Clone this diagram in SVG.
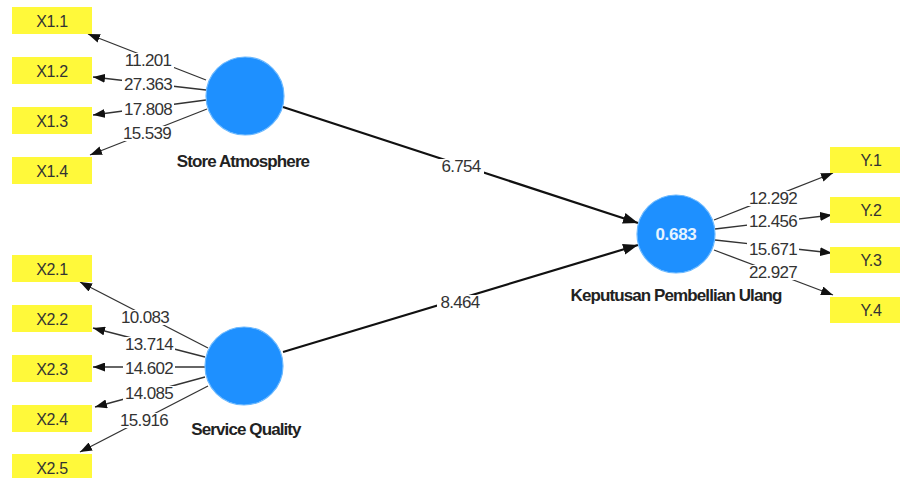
<svg xmlns="http://www.w3.org/2000/svg" width="900" height="478" viewBox="0 0 900 478">
<defs>
<marker id="ah" markerUnits="userSpaceOnUse" viewBox="0 0 12 9" markerWidth="12" markerHeight="9" refX="12" refY="4.5" orient="auto"><path d="M0,0 L12,4.5 L0,9 z" fill="#111"/></marker>
<marker id="ahb" markerUnits="userSpaceOnUse" viewBox="0 0 15 11" markerWidth="15" markerHeight="11" refX="15" refY="5.5" orient="auto"><path d="M0,0 L15,5.5 L0,11 z" fill="#111"/></marker>
<style>
.ind{fill:#fff93a;}
.it{font-family:"Liberation Sans",Arial,sans-serif;font-size:16px;fill:#333;text-anchor:middle;letter-spacing:-0.3px;}
.lv{fill:#1e90ff;stroke:#6ab8ff;stroke-width:1.2;}
.lt{font-family:"Liberation Sans",Arial,sans-serif;font-size:17px;font-weight:bold;fill:#222;text-anchor:middle;letter-spacing:-0.9px;}
.r2{font-family:"Liberation Sans",Arial,sans-serif;font-size:17px;font-weight:bold;fill:#e6f4ff;text-anchor:middle;letter-spacing:-0.3px;}
.ln{stroke:#333;stroke-width:1.3;fill:none;marker-end:url(#ah);}
.pl{stroke:#111;stroke-width:2.2;fill:none;marker-end:url(#ahb);}
.bg{fill:#fff;}
.nl{font-family:"Liberation Sans",Arial,sans-serif;font-size:17px;fill:#333;text-anchor:middle;letter-spacing:-0.7px;}
</style>
</defs>
<rect width="900" height="478" fill="#fff"/>
<g id="connectors">
<line class="ln" x1="206" y1="80" x2="88" y2="34"/>
<line class="ln" x1="206" y1="90" x2="93" y2="77"/>
<line class="ln" x1="206" y1="100" x2="93" y2="115"/>
<line class="ln" x1="207" y1="109" x2="90" y2="155"/>
<line class="ln" x1="208" y1="348" x2="80" y2="282"/>
<line class="ln" x1="205" y1="357" x2="93" y2="328"/>
<line class="ln" x1="205" y1="367" x2="93" y2="367"/>
<line class="ln" x1="205" y1="377" x2="95" y2="407"/>
<line class="ln" x1="208" y1="386" x2="80" y2="452"/>
<line class="ln" x1="714" y1="220" x2="833" y2="173"/>
<line class="ln" x1="715" y1="229" x2="832" y2="215"/>
<line class="ln" x1="715" y1="240" x2="832" y2="253"/>
<line class="ln" x1="714" y1="250" x2="833" y2="295"/>
<line class="pl" x1="283" y1="107" x2="638" y2="223"/>
<line class="pl" x1="283" y1="352" x2="638" y2="245"/>
<rect class="bg" x="122" y="53" width="52" height="15"/>
<rect class="bg" x="122" y="77" width="52" height="15"/>
<rect class="bg" x="122" y="102" width="52" height="15"/>
<rect class="bg" x="121" y="126" width="52" height="15"/>
<rect class="bg" x="119" y="310" width="52" height="15"/>
<rect class="bg" x="123" y="337" width="52" height="15"/>
<rect class="bg" x="123" y="361" width="52" height="15"/>
<rect class="bg" x="123" y="386" width="52" height="15"/>
<rect class="bg" x="118" y="413" width="52" height="15"/>
<rect class="bg" x="747" y="191" width="52" height="15"/>
<rect class="bg" x="747" y="214" width="52" height="15"/>
<rect class="bg" x="747" y="242" width="52" height="15"/>
<rect class="bg" x="747" y="265" width="52" height="15"/>
<rect class="bg" x="438" y="159" width="46" height="15"/>
<rect class="bg" x="437" y="295" width="46" height="15"/>
<text class="nl" x="148" y="66">11.201</text>
<text class="nl" x="148" y="90">27.363</text>
<text class="nl" x="148" y="115">17.808</text>
<text class="nl" x="147" y="139">15.539</text>
<text class="nl" x="145" y="323">10.083</text>
<text class="nl" x="149" y="350">13.714</text>
<text class="nl" x="149" y="374">14.602</text>
<text class="nl" x="149" y="399">14.085</text>
<text class="nl" x="144" y="426">15.916</text>
<text class="nl" x="773" y="204">12.292</text>
<text class="nl" x="773" y="227">12.456</text>
<text class="nl" x="773" y="255">15.671</text>
<text class="nl" x="773" y="278">22.927</text>
<text class="nl" x="461" y="172">6.754</text>
<text class="nl" x="460" y="308">8.464</text>
</g>
<g id="X1.1"><rect class="ind" x="12" y="7" width="80" height="27"/><text class="it" x="52" y="26.5">X1.1</text></g>
<g id="X1.2"><rect class="ind" x="12" y="57" width="80" height="27"/><text class="it" x="52" y="76.5">X1.2</text></g>
<g id="X1.3"><rect class="ind" x="12" y="107" width="80" height="27"/><text class="it" x="52" y="126.5">X1.3</text></g>
<g id="X1.4"><rect class="ind" x="12" y="157" width="80" height="27"/><text class="it" x="52" y="176.5">X1.4</text></g>
<g id="X2.1"><rect class="ind" x="12" y="255" width="80" height="27"/><text class="it" x="52" y="274.5">X2.1</text></g>
<g id="X2.2"><rect class="ind" x="12" y="305" width="80" height="27"/><text class="it" x="52" y="324.5">X2.2</text></g>
<g id="X2.3"><rect class="ind" x="12" y="355" width="80" height="27"/><text class="it" x="52" y="374.5">X2.3</text></g>
<g id="X2.4"><rect class="ind" x="12" y="405" width="80" height="27"/><text class="it" x="52" y="424.5">X2.4</text></g>
<g id="X2.5"><rect class="ind" x="12" y="454" width="80" height="27"/><text class="it" x="52" y="473.5">X2.5</text></g>
<g id="Y.1"><rect class="ind" x="830" y="147" width="82" height="26"/><text class="it" x="871" y="165.5">Y.1</text></g>
<g id="Y.2"><rect class="ind" x="830" y="197" width="82" height="26"/><text class="it" x="871" y="215.5">Y.2</text></g>
<g id="Y.3"><rect class="ind" x="830" y="247" width="82" height="26"/><text class="it" x="871" y="265.5">Y.3</text></g>
<g id="Y.4"><rect class="ind" x="830" y="297" width="82" height="26"/><text class="it" x="871" y="315.5">Y.4</text></g>
<g id="StoreAtmosphere"><circle class="lv" cx="245" cy="96" r="39"/><text class="lt" x="243" y="167">Store Atmosphere</text></g>
<g id="ServiceQuality"><circle class="lv" cx="244" cy="366" r="39"/><text class="lt" x="246" y="435">Service Quality</text></g>
<g id="KeputusanPembellianUlang"><circle class="lv" cx="676" cy="234" r="39"/><text class="r2" x="676" y="240">0.683</text><text class="lt" x="676" y="301">Keputusan Pembellian Ulang</text></g>
</svg>
